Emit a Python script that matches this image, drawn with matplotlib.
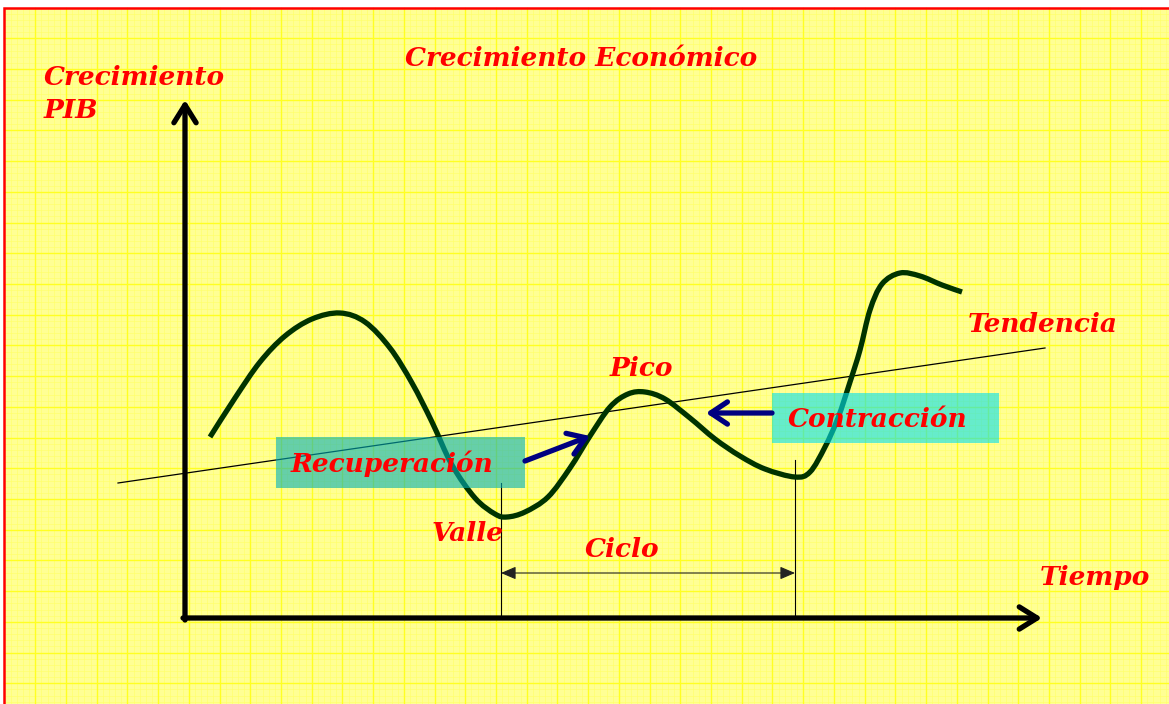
import numpy as np
import matplotlib
matplotlib.use("Agg")
import matplotlib.pyplot as plt
from matplotlib.patches import Rectangle, PathPatch
from matplotlib.path import Path

# ---- data (time units on x, growth units on y; origin at the axes corner) ----
curve_t = [2.5, 5.0, 7.5, 10.0, 12.7, 15.5, 18.0, 20.5, 22.7, 24.7, 26.7, 29.0,
           31.0, 32.2, 34.0, 36.3, 38.5, 40.5, 42.5, 44.3, 46.0, 48.0, 50.5,
           53.0, 55.5, 58.0, 61.0, 62.5, 64.0, 65.3, 66.5, 67.5, 68.5, 69.7,
           71.5, 73.5, 75.7, 77.7]
curve_g = [18.1, 22.0, 25.6, 28.2, 29.9, 30.5, 29.6, 27.0, 23.5, 19.6, 15.3, 12.0,
           10.4, 10.1, 10.6, 12.1, 15.0, 18.2, 21.1, 22.4, 22.6, 21.9, 20.0,
           17.9, 16.2, 14.9, 14.1, 14.6, 17.1, 20.0, 23.6, 26.8, 30.8, 33.4,
           34.5, 34.2, 33.3, 32.6]

trend_t = [-6.7, 86.0]
trend_g = [13.5, 27.0]

valley_t = 31.6
valley_top = 13.5
cycle_end_t = 61.0
cycle_end_top = 15.8
cycle_arrow_g = 4.5

yaxis_top = 51.8
xaxis_right = 85.7

box_recup = (9.1, 13.0, 34.0, 18.1)     # t0, g0, t1, g1
box_contr = (58.7, 17.5, 81.4, 22.5)
arrow_recup = ((34.0, 15.7), (40.5, 18.2))
arrow_contr = ((58.7, 20.5), (52.1, 20.5))

labels = {
    "Crecimiento Económico": (22.0, 55.2),
    "Tendencia": (78.3, 28.6),
    "Pico": (42.5, 24.2),
    "Recuperación": (10.6, 14.6),
    "Contracción": (60.3, 19.1),
    "Valle": (24.7, 7.7),
    "Ciclo": (40.0, 6.1),
    "Tiempo": (85.5, 3.3),
}
ylabel_text = "Crecimiento\nPIB"
ylabel_pos = (-14.1, 50.0)

# ---- figure ----
W, H = 1169, 704
fig = plt.figure(figsize=(W / 100, H / 100), dpi=100, facecolor="white")
ax = fig.add_axes([0, 0, 1, 1])
# pixel mapping: t = (px-185)/10 ; g = (618-py)/10
ax.set_xlim(-18.5, (W - 185) / 10)
ax.set_ylim((618 - H) / 10, 618 / 10)
ax.axis("off")

# background
x0, y0 = (4.5 - 185) / 10, (618 - 7.5) / 10
xr, yb = (W - 185) / 10, (618 - H) / 10
ax.add_patch(Rectangle((x0, yb), xr - x0, y0 - yb, facecolor="#FFFF94",
                       edgecolor="none", zorder=0))
step = 3.072
for xv in np.arange(x0, xr, step / 5):
    ax.plot([xv, xv], [yb, y0], color="#FFFF66", lw=0.4, zorder=0.5)
for yv in np.arange(y0, yb, -step / 5):
    ax.plot([x0, xr], [yv, yv], color="#FFFF66", lw=0.4, zorder=0.5)
for xv in np.arange(x0 + step, xr, step):
    ax.plot([xv, xv], [yb, y0], color="#FFFF22", lw=1.0, zorder=0.6)
for yv in np.arange(y0 - step, yb, -step):
    ax.plot([x0, xr], [yv, yv], color="#FFFF22", lw=1.0, zorder=0.6)
ax.plot([x0, x0, xr], [yb, y0, y0], color="#FF0000", lw=1.8, zorder=1,
        solid_joinstyle="miter")

# trend line
ax.plot(trend_t, trend_g, color="black", lw=0.9, zorder=2)

# business cycle curve drawn as a smooth Bezier path through the read points
pts = np.column_stack([curve_t, curve_g])
verts = [pts[0]]
codes = [Path.MOVETO]
for i in range(len(pts) - 1):
    p0 = pts[i - 1] if i > 0 else pts[i]
    p1, p2 = pts[i], pts[i + 1]
    p3 = pts[i + 2] if i + 2 < len(pts) else pts[i + 1]
    verts += [p1 + (p2 - p0) / 6, p2 - (p3 - p1) / 6, p2]
    codes += [Path.CURVE4] * 3
ax.add_patch(PathPatch(Path(verts, codes), facecolor="none", edgecolor="#003300",
                       lw=3.8, joinstyle="round", capstyle="butt", zorder=3))

# vertical markers and cycle arrow
ax.plot([valley_t, valley_t], [0, valley_top], color="black", lw=0.8, zorder=2)
ax.plot([cycle_end_t, cycle_end_t], [0, cycle_end_top], color="black", lw=0.8, zorder=2)
ax.annotate("", xy=(cycle_end_t, cycle_arrow_g), xytext=(valley_t, cycle_arrow_g),
            arrowprops=dict(arrowstyle="<|-|>,head_length=0.7,head_width=0.3",
                            color="#222222", lw=0.8, mutation_scale=13,
                            shrinkA=0, shrinkB=0), zorder=2)

# axes arrows
ax.annotate("", xy=(0, yaxis_top), xytext=(0, -0.2),
            arrowprops=dict(arrowstyle="->,head_length=0.8,head_width=0.5",
                            color="black", lw=3.8, mutation_scale=16,
                            shrinkA=0, shrinkB=0), zorder=4)
ax.annotate("", xy=(xaxis_right, 0), xytext=(-0.2, 0),
            arrowprops=dict(arrowstyle="->,head_length=0.8,head_width=0.5",
                            color="black", lw=3.8, mutation_scale=16,
                            shrinkA=0, shrinkB=0), zorder=4)

# translucent boxes
for (t0, g0, t1, g1), col in [(box_recup, "#00B0B8"), (box_contr, "#00E0F0")]:
    ax.add_patch(Rectangle((t0, g0), t1 - t0, g1 - g0, facecolor=col,
                           edgecolor="none", alpha=0.6, zorder=5))

# blue arrows
for (start, end) in [arrow_recup, arrow_contr]:
    ax.annotate("", xy=end, xytext=start,
                arrowprops=dict(arrowstyle="->,head_length=0.75,head_width=0.5",
                                color="#000080", lw=3.8, mutation_scale=16,
                                shrinkA=0, shrinkB=0), zorder=6)

# texts
font = dict(family="DejaVu Serif", weight="bold", style="italic",
            color="#FF0000", fontsize=19)
for txt, (tx, ty) in labels.items():
    ax.text(tx, ty, txt, ha="left", va="baseline", zorder=7, **font)
ax.text(ylabel_pos[0], ylabel_pos[1], ylabel_text, ha="left", va="baseline",
        linespacing=1.4, zorder=7, **font)

fig.savefig("out.png", dpi=100, facecolor="white")
